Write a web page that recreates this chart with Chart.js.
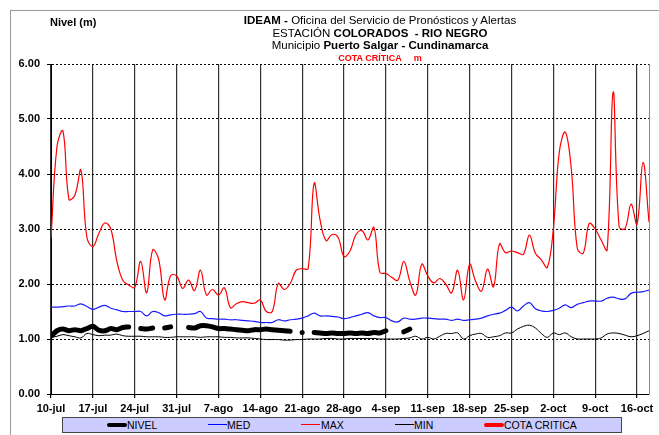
<!DOCTYPE html>
<html>
<head>
<meta charset="utf-8">
<script src="https://cdn.jsdelivr.net/npm/chart.js@4.4.0/dist/chart.umd.min.js"></script>
<style>
  body { margin: 0; background: #fff; font-family: "Liberation Sans", Arial, sans-serif; }
  #wrap { position: relative; width: 659px; height: 435px; overflow: hidden; }
  #frame { position: absolute; left: 10px; top: 10px; width: 700px; height: 500px; border: 1px solid #999; }
  #myChart { position: absolute; left: 0; top: 0; }
  .t { position: absolute; left: 180px; width: 400px; text-align: center; font-size: 11.5px; line-height: 12px; color: #000; white-space: nowrap; }
  #ylab { position: absolute; left: 50px; top: 16px; font-size: 11px; font-weight: bold; }
  #legend { position: absolute; left: 62px; top: 417px; width: 558px; height: 14px; background: #ccccff; border: 1px solid #444; }
  .li { position: absolute; top: 1px; font-size: 10.5px; line-height: 12px; }
  .sw { position: absolute; top: 6px; height: 0; }
</style>
</head>
<body>
<div id="wrap">
  <div id="frame"></div>
  <canvas id="myChart" width="659" height="435"></canvas>
  <div id="ylab">Nivel (m)</div>
  <div class="t" style="top:14px"><b>IDEAM - </b>Oficina del Servicio de Pronósticos y Alertas</div>
  <div class="t" style="top:27px">ESTACIÓN <b>COLORADOS&nbsp; - RIO NEGRO</b></div>
  <div class="t" style="top:39px">Municipio <b>Puerto Salgar - Cundinamarca</b></div>
  <div class="t" style="top:52px;color:#ff0000;font-weight:bold;font-size:9px">COTA CRÍTICA &nbsp;&nbsp;&nbsp; m</div>
  <div id="legend">
    <div class="sw" style="left:44px;width:20px;border-top:4px solid #000;border-radius:2px;top:5px"></div>
    <div class="li" style="left:64px">NIVEL</div>
    <div class="sw" style="left:145px;width:19px;border-top:1px solid #0000ff"></div>
    <div class="li" style="left:164px">MED</div>
    <div class="sw" style="left:238px;width:19px;border-top:1px solid #ff0000"></div>
    <div class="li" style="left:258px">MAX</div>
    <div class="sw" style="left:332px;width:19px;border-top:1px solid #000"></div>
    <div class="li" style="left:351px">MIN</div>
    <div class="sw" style="left:421px;width:20px;border-top:4px solid #ff0000;border-radius:2px;top:5px"></div>
    <div class="li" style="left:441px">COTA CRITICA</div>
  </div>
</div>
<script>
// tick labels (one every 7 days, starting 10-jul)
var dateLabels = ['10-jul','17-jul','24-jul','31-jul','7-ago','14-ago','21-ago','28-ago','4-sep','11-sep','18-sep','25-sep','2-oct','9-oct','16-oct'];

// daily values, day 0 = 10-jul
var maxVals = [2.83,4.50,4.78,3.54,3.62,4.07,2.85,2.68,2.92,3.11,3.00,2.42,2.07,1.98,1.94,2.41,1.84,2.62,2.45,1.71,
  2.15,2.15,1.92,2.07,1.88,2.25,1.80,1.90,1.80,1.93,1.57,1.64,1.68,1.66,1.65,1.71,1.50,1.50,2.01,1.90,
  2.01,2.25,2.28,2.28,3.83,3.16,2.79,2.90,2.85,2.50,2.60,2.90,2.97,2.80,3.03,2.21,2.19,2.12,2.07,2.41,
  2.05,1.80,2.36,2.15,2.02,2.10,2.00,1.84,2.25,1.71,2.36,2.05,1.87,2.27,1.95,2.73,2.57,2.60,2.57,2.54,
  2.89,2.56,2.44,2.30,3.00,4.40,4.76,4.10,2.65,2.56,3.10,3.00,2.80,2.62,5.49,3.04,3.01,3.45,3.09,4.21,3.13];

var medVals = [1.58,1.58,1.59,1.60,1.60,1.64,1.59,1.54,1.58,1.61,1.56,1.53,1.50,1.50,1.50,1.50,1.42,1.50,1.48,1.42,
  1.44,1.45,1.45,1.45,1.46,1.50,1.38,1.37,1.36,1.36,1.35,1.35,1.34,1.33,1.32,1.30,1.30,1.30,1.35,1.33,
  1.35,1.36,1.38,1.42,1.47,1.42,1.42,1.41,1.40,1.37,1.39,1.42,1.45,1.48,1.42,1.39,1.39,1.33,1.31,1.38,
  1.36,1.36,1.38,1.38,1.37,1.36,1.36,1.34,1.36,1.34,1.35,1.36,1.38,1.42,1.45,1.47,1.52,1.58,1.51,1.60,
  1.66,1.55,1.51,1.50,1.52,1.56,1.62,1.57,1.63,1.66,1.69,1.69,1.69,1.74,1.76,1.73,1.73,1.83,1.85,1.86,1.89];

var minVals = [1.03,1.05,1.08,1.06,1.04,1.02,1.10,1.08,1.06,1.07,1.07,1.09,1.06,1.05,1.05,1.05,1.04,1.04,1.04,1.03,
  1.03,1.04,1.04,1.04,1.04,1.03,1.04,1.04,1.04,1.03,1.03,1.02,1.02,1.02,1.01,1.00,0.99,0.99,0.99,0.98,
  0.98,0.99,0.99,1.00,1.00,1.00,1.01,1.01,1.00,1.00,1.01,1.01,1.01,1.01,1.01,1.00,1.00,1.00,1.00,1.01,
  1.02,1.05,1.00,1.03,1.00,1.05,1.10,1.10,1.11,1.00,1.06,1.09,1.10,1.03,1.04,1.06,1.11,1.11,1.18,1.23,
  1.25,1.20,1.10,1.03,1.11,1.08,1.11,1.04,1.00,1.00,1.00,1.00,1.02,1.09,1.11,1.10,1.07,1.04,1.06,1.10,1.15];

var nivelVals = [1.05,1.15,1.18,1.15,1.17,1.15,1.19,1.23,1.16,1.15,1.19,1.17,1.21,1.22,null,1.19,1.18,1.20,null,1.20,
  1.22,null,null,1.21,1.20,1.24,1.24,1.22,1.19,1.19,1.18,1.17,1.16,1.15,1.17,1.17,1.18,1.17,1.16,1.15,
  1.14,null,1.12,null,1.12,1.11,1.10,1.11,1.10,1.10,1.11,1.10,1.11,1.10,1.12,1.11,1.15,null,null,1.13,1.18];

function toXY(arr) {
  return arr.map(function (v, i) { return { x: i, y: v }; });
}

// isolated readings get a dot so they show up
function nivelRadius(ctx) {
  var i = ctx.dataIndex;
  if (nivelVals[i] == null) return 0;
  var prev = i > 0 ? nivelVals[i - 1] : null;
  var next = i < nivelVals.length - 1 ? nivelVals[i + 1] : null;
  return (prev == null && next == null) ? 2.5 : 0;
}

var plotBorder = {
  id: 'plotBorder',
  afterDraw: function (chart) {
    var a = chart.chartArea, c = chart.ctx;
    c.save();
    c.strokeStyle = '#888';
    c.lineWidth = 1;
    c.beginPath();
    c.moveTo(a.right + 0.5, a.top);
    c.lineTo(a.right + 0.5, a.bottom);
    c.stroke();
    c.restore();
  }
};

var fontFam = '"Liberation Sans", Arial, sans-serif';
var ctx = document.getElementById('myChart').getContext('2d');
var myChart = new Chart(ctx, {
  type: 'line',
  data: {
    datasets: [
      { label: 'NIVEL', data: toXY(nivelVals), borderColor: '#000', backgroundColor: '#000', borderWidth: 5,
        borderCapStyle: 'round', borderJoinStyle: 'round', tension: 0.3, spanGaps: false,
        pointRadius: nivelRadius, pointBorderWidth: 0, pointBackgroundColor: '#000' },
      { label: 'MED', data: toXY(medVals), borderColor: '#1a1aff', borderWidth: 1.2, tension: 0.4, pointRadius: 0 },
      { label: 'MAX', data: toXY(maxVals), borderColor: '#ff0000', borderWidth: 1.2, tension: 0.4, pointRadius: 0 },
      { label: 'MIN', data: toXY(minVals), borderColor: '#000', borderWidth: 1, tension: 0.4, pointRadius: 0 },
      { label: 'COTA CRITICA', data: [], borderColor: '#ff0000', borderWidth: 4, pointRadius: 0 }
    ]
  },
  options: {
    responsive: false,
    animation: false,
    devicePixelRatio: 1,
    layout: { padding: { left: 10, top: 64, right: 10, bottom: 21 } },
    plugins: {
      legend: { display: false },
      tooltip: { enabled: false },
      title: { display: false }
    },
    scales: {
      x: {
        type: 'linear',
        min: 0,
        max: 100,
        afterBuildTicks: function (scale) {
          scale.ticks = dateLabels.map(function (l, i) { return { value: i * 7 }; });
        },
        afterFit: function (scale) { scale.height = 20; },
        ticks: {
          autoSkip: false,
          maxRotation: 0,
          padding: 4,
          color: '#000',
          font: { family: fontFam, size: 11, weight: 'bold' },
          callback: function (v) { return dateLabels[Math.round(v / 7)]; }
        },
        grid: { color: '#333', lineWidth: 1.2, tickLength: 4, tickColor: '#000' },
        border: { color: '#000', width: 1 }
      },
      y: {
        min: 0,
        max: 6,
        afterFit: function (scale) { scale.width = 41; },
        ticks: {
          stepSize: 1,
          padding: 7,
          color: '#000',
          font: { family: fontFam, size: 11, weight: 'bold' },
          callback: function (v) { return v.toFixed(2); }
        },
        grid: { color: '#000', lineWidth: 1, tickLength: 4, tickColor: '#000' },
        border: { color: '#000', width: 1, dash: [2, 2] }
      }
    }
  },
  plugins: [plotBorder]
});
</script>
</body>
</html>
